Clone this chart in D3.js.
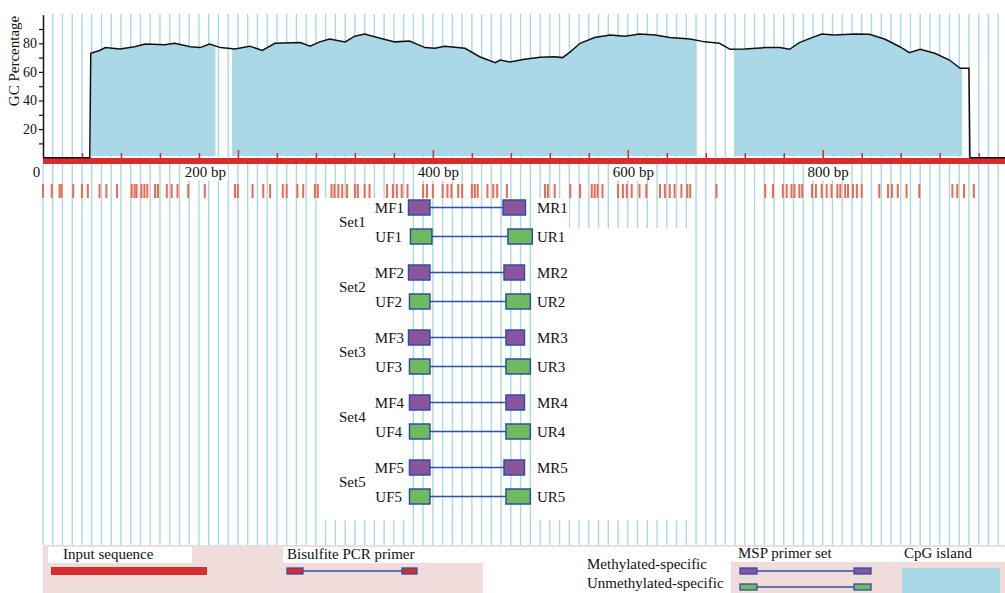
<!DOCTYPE html>
<html>
<head>
<meta charset="utf-8">
<script src="https://cdn.jsdelivr.net/npm/d3@7"></script>
<style>
  body { margin: 0; background: #fff; }
  svg { display: block; font-family: "Liberation Serif", "Times New Roman", serif; }
</style>
</head>
<body>
<svg id="chart"></svg>
<script>
// sequence length (bp)
const seqLength = 987;

// GC percentage along the sequence (position in bp, value in %)
const gcPos = [0, 48, 49, 58, 64, 79, 94, 105, 125, 135, 151, 161, 171, 182, 197, 212, 225, 238, 264, 274,
  284, 294, 310, 320, 330, 346, 361, 376, 392, 402, 412, 433, 448, 464, 469, 479, 494, 510, 525, 533,
  541, 551, 566, 582, 597, 612, 628, 643, 664, 679, 694, 705, 720, 741, 756, 766, 776, 789, 799, 812,
  833, 848, 864, 879, 889, 900, 915, 930, 941, 950, 951, 987];
const gcVal = [0, 0, 73, 75, 77, 76, 77.6, 79.5, 79, 80, 77.6, 77, 79.5, 77, 76, 78, 75, 80, 80.5, 78,
  81, 83, 81, 85, 86.5, 83.5, 81, 81.6, 77, 76.5, 78, 76.5, 70.6, 66.4, 68.3, 67, 68.8, 70.2, 70.6, 70,
  74, 80, 84, 85.8, 85, 86.5, 85.8, 84, 83, 81, 80, 75.8, 76, 77, 77, 75.8, 80.5, 84, 86.5, 85.8,
  86.5, 86.3, 82.8, 77.6, 73.4, 75.8, 73, 68.3, 62.5, 62.5, 0, 0];

// CpG islands (start, end in bp)
const islands = [[49, 177], [194, 670], [709, 943]];

// CpG sites (bp)
const cpgSites = [0, 9, 17, 19, 31, 40, 46, 58, 65, 76, 91, 94, 96, 101, 104, 107, 115, 118, 127, 132,
  138, 149, 166, 197, 200, 215, 226, 233, 246, 250, 261, 267, 279, 282, 296, 299, 303, 307, 312, 320,
  323, 330, 335, 353, 359, 363, 368, 374, 390, 394, 400, 410, 415, 419, 426, 430, 440, 443, 446, 456,
  462, 466, 476, 515, 518, 525, 541, 551, 563, 566, 569, 574, 590, 595, 599, 604, 612, 619, 633, 638,
  643, 648, 655, 661, 664, 691, 741, 749, 759, 763, 768, 771, 776, 779, 789, 793, 799, 804, 809, 815,
  818, 823, 826, 831, 835, 840, 858, 867, 871, 877, 886, 899, 933, 938, 945, 955];

// axis labels
const bpLabels = [0, 200, 400, 600, 800];
const gcTicks = [20, 40, 60, 80];

// MSP primer sets (start, end in bp)
const setNames = ["Set1", "Set2", "Set3", "Set4", "Set5"];
const mfPrimers = [[375, 397], [375, 397], [375, 397], [376, 397], [376, 397]];
const mrPrimers = [[472, 495], [473, 494], [475, 494], [475, 494], [473, 494]];
const ufPrimers = [[377, 399], [376, 397], [376, 397], [376, 397], [376, 397]];
const urPrimers = [[477, 502], [475, 500], [475, 500], [475, 500], [475, 500]];

// legend
const legendLabels = ["Input sequence", "Bisulfite PCR primer", "MSP primer set", "CpG island"];
const mspRows = ["Methylated-specific", "Unmethylated-specific"];

const W = 1005, H = 593;
const blue = "#aad8e6", red = "#d92d2d", cpgRed = "#ee6a4f";
const purple = "#8a559e", green = "#6dbb5e", edge = "#2e4f9f";

const svg = d3.select("#chart").attr("width", W).attr("height", H);

const x = d3.scaleLinear().domain([0, seqLength]).range([43, 1005]);
const y = d3.scaleLinear().domain([0, 100]).range([157.7, 14.7]);

// vertical guide lines every 10 bp
const grid = d3.range(0, 990, 10);
svg.append("g").selectAll("line").data(grid.filter(d => d > 0)).join("line")
  .attr("x1", d => x(d)).attr("x2", d => x(d))
  .attr("y1", 14).attr("y2", 157)
  .attr("stroke", blue).attr("stroke-width", 1.4);
svg.append("g").selectAll("line").data(grid).join("line")
  .attr("x1", d => x(d)).attr("x2", d => x(d))
  .attr("y1", 164).attr("y2", 545)
  .attr("stroke", blue).attr("stroke-width", 1.4);

// white panel behind the primer sets
svg.append("rect").attr("x", 318).attr("y", 198).attr("width", 89).attr("height", 322).attr("fill", "#fff");
svg.append("rect").attr("x", 533).attr("y", 228).attr("width", 159).attr("height", 292).attr("fill", "#fff");
svg.append("rect").attr("x", 533).attr("y", 198).attr("width", 36).attr("height", 30).attr("fill", "#fff");

// GC area on CpG islands
const gcData = gcPos.map((p, i) => [p, gcVal[i]]);
const clip = svg.append("defs").append("clipPath").attr("id", "islands");
clip.selectAll("rect").data(islands).join("rect")
  .attr("x", d => x(d[0])).attr("width", d => x(d[1]) - x(d[0]))
  .attr("y", 0).attr("height", 160);

svg.append("path").datum(gcData)
  .attr("d", d3.area().x(d => x(d[0])).y0(156).y1(d => y(d[1])))
  .attr("fill", blue)
  .attr("clip-path", "url(#islands)");

// input sequence bar + ruler ticks
svg.append("rect").attr("x", x(0)).attr("y", 158)
  .attr("width", x(seqLength) - x(0)).attr("height", 6).attr("fill", red);

const ruler = svg.append("g").attr("transform", "translate(0,158)")
  .call(d3.axisTop(x).tickValues(d3.range(40, seqLength, 40)).tickSize(5).tickFormat(""));
ruler.select(".domain").remove();
ruler.selectAll(".tick line").attr("stroke", red).attr("stroke-width", 1.5)
  .attr("y2", d => d % 200 === 0 ? -8 : -5);

// GC line
svg.append("path").datum(gcData)
  .attr("d", d3.line().x(d => x(d[0])).y(d => y(d[1])))
  .attr("fill", "none").attr("stroke", "#111").attr("stroke-width", 1.5);

// y axis
const yAxis = svg.append("g").attr("transform", "translate(43,0)")
  .call(d3.axisLeft(y).tickValues(d3.range(10, 100, 10)).tickSize(4).tickSizeOuter(0).tickPadding(2)
    .tickFormat(d => gcTicks.includes(d) ? d : ""));
yAxis.attr("font-family", null).attr("font-size", 14);
yAxis.select(".domain").attr("stroke", "#111").attr("stroke-width", 1.5);
yAxis.selectAll(".tick line").attr("stroke", "#111").attr("stroke-width", 1.2);
yAxis.selectAll(".tick text").attr("fill", "#111");

svg.append("text")
  .attr("transform", "translate(19,61) rotate(-90)")
  .attr("text-anchor", "middle").attr("font-size", 15).attr("fill", "#111")
  .text("GC Percentage");

// bp labels
const xAxis = svg.append("g").attr("transform", "translate(0,164)")
  .call(d3.axisBottom(x).tickValues(bpLabels).tickSize(0).tickPadding(2.5)
    .tickFormat(d => d === 0 ? "0" : d + " bp"));
xAxis.select(".domain").remove();
xAxis.attr("font-family", null).attr("font-size", 15);
xAxis.selectAll(".tick text").attr("fill", "#111")
  .attr("dx", d => d === 0 ? -7 : d === 200 ? -33 : 5);
xAxis.selectAll(".tick").each(function () {
  const b = d3.select(this).select("text").node().getBBox();
  d3.select(this).insert("rect", "text")
    .attr("x", b.x - 2).attr("y", Math.max(0.5, b.y))
    .attr("width", b.width + 4).attr("height", b.height).attr("fill", "#fff");
});

// CpG sites
svg.append("g").selectAll("line").data(cpgSites).join("line")
  .attr("x1", d => x(d)).attr("x2", d => x(d))
  .attr("y1", 184).attr("y2", 198)
  .attr("stroke", cpgRed).attr("stroke-width", 2);

// primer sets
const sets = svg.append("g").selectAll("g").data(setNames).join("g")
  .attr("transform", (d, i) => `translate(0,${i * 65})`);

function primerPair(g, fwd, rev, yc, fill, fwdLabel, revLabel, fwdEnd) {
  g.append("line")
    .attr("x1", x(fwd[1])).attr("x2", x(rev[0]))
    .attr("y1", yc).attr("y2", yc)
    .attr("stroke", edge).attr("stroke-width", 1.5);
  [fwd, rev].forEach(p => {
    g.append("rect")
      .attr("x", x(p[0])).attr("y", yc - 7.5)
      .attr("width", x(p[1]) - x(p[0])).attr("height", 15)
      .attr("fill", fill).attr("stroke", edge).attr("stroke-width", 1.5);
  });
  g.append("text").attr("x", fwdEnd).attr("y", yc + 5).attr("text-anchor", "end")
    .attr("font-size", 15).attr("fill", "#111").text(fwdLabel);
  g.append("text").attr("x", 537).attr("y", yc + 5)
    .attr("font-size", 15).attr("fill", "#111").text(revLabel);
}

sets.each(function (name, i) {
  const g = d3.select(this);
  const n = i + 1;
  g.append("text").attr("x", 339).attr("y", 227)
    .attr("font-size", 15).attr("fill", "#111").text(name);
  primerPair(g, mfPrimers[i], mrPrimers[i], 207.5, purple, "MF" + n, "MR" + n, 404);
  primerPair(g, ufPrimers[i], urPrimers[i], 236.5, green, "UF" + n, "UR" + n, 402);
});

// legend
const lg = svg.append("g");
lg.append("rect").attr("x", 43).attr("y", 545).attr("width", W - 43).attr("height", H - 545).attr("fill", "#f1dcdc");
lg.append("rect").attr("x", 48).attr("y", 547).attr("width", 144).attr("height", 16).attr("fill", "#fff");
lg.append("rect").attr("x", 283).attr("y", 547).attr("width", 448).attr("height", 16).attr("fill", "#fff");
lg.append("rect").attr("x", 483).attr("y", 547).attr("width", 248).attr("height", H - 547).attr("fill", "#fff");
lg.append("rect").attr("x", 731).attr("y", 547).attr("width", W - 731).attr("height", 15).attr("fill", "#fff");

[[63, 559], [287, 559], [738, 558], [904, 558]].forEach((p, i) => {
  lg.append("text").attr("x", p[0]).attr("y", p[1])
    .attr("font-size", 15).attr("fill", "#111").text(legendLabels[i]);
});
mspRows.forEach((t, i) => {
  lg.append("text").attr("x", 587).attr("y", 569 + i * 19)
    .attr("font-size", 15).attr("fill", "#111").text(t);
});

lg.append("rect").attr("x", 51).attr("y", 567).attr("width", 156).attr("height", 8).attr("fill", red);

function legendPrimer(x1, x2, x3, x4, yc, fill) {
  lg.append("line").attr("x1", x2).attr("x2", x3).attr("y1", yc).attr("y2", yc)
    .attr("stroke", edge).attr("stroke-width", 1.3);
  [[x1, x2], [x3, x4]].forEach(p => {
    lg.append("rect").attr("x", p[0]).attr("y", yc - 3).attr("width", p[1] - p[0]).attr("height", 6)
      .attr("fill", fill).attr("stroke", edge).attr("stroke-width", 1.3);
  });
}
legendPrimer(287, 303, 402, 417, 571, red);
legendPrimer(740, 757, 854, 871, 571, purple);
legendPrimer(740, 757, 854, 871, 587, green);

lg.append("rect").attr("x", 902).attr("y", 568).attr("width", 98).attr("height", 25).attr("fill", blue);
</script>
</body>
</html>
